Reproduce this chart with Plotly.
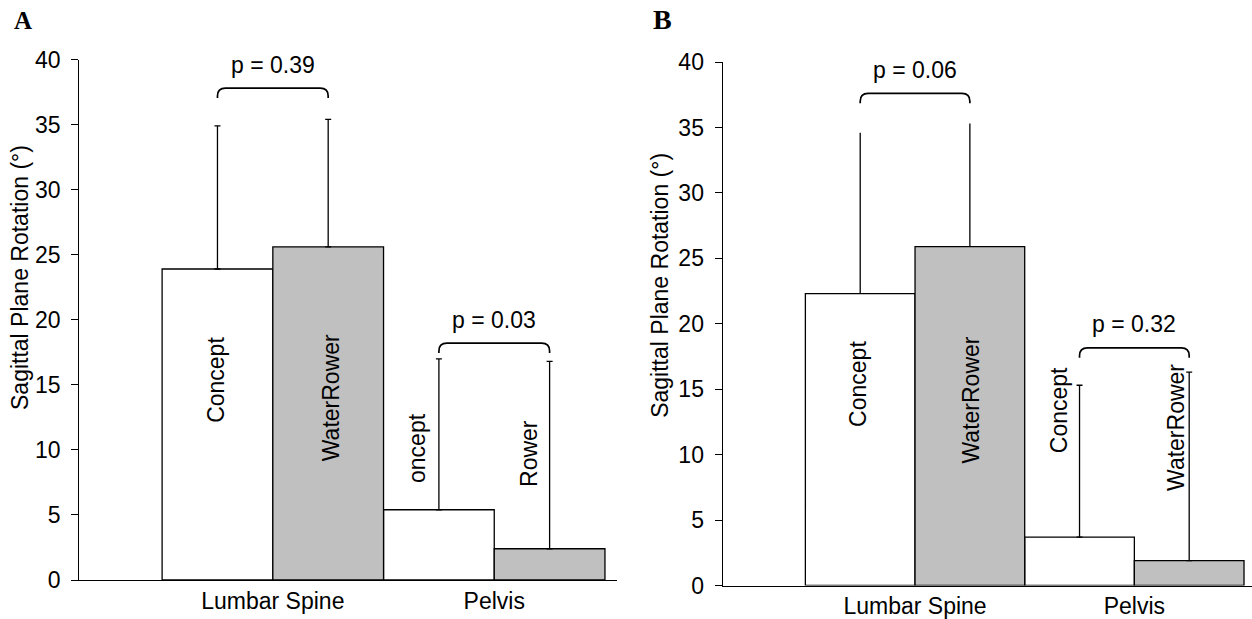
import plotly.graph_objects as go

# ---------------- data ----------------
categories = ["Lumbar Spine", "Pelvis"]
series_names = ["Concept", "WaterRower"]
y_tick_values = [0, 5, 10, 15, 20, 25, 30, 35, 40]

# Panel A
a_concept_mean = [23.9, 5.4]
a_concept_sd = [11.0, 11.6]
a_water_mean = [25.6, 2.4]
a_water_sd = [9.8, 14.4]
a_pvalues = ["p = 0.39", "p = 0.03"]
a_labels_concept = ["Concept", "oncept"]
a_labels_water = ["WaterRower", "Rower"]

# Panel B
b_concept_mean = [22.3, 3.7]
b_concept_sd = [12.3, 11.6]
b_water_mean = [25.9, 1.9]
b_water_sd = [9.4, 14.4]
b_pvalues = ["p = 0.06", "p = 0.32"]
b_labels_concept = ["Concept", "Concept"]
b_labels_water = ["WaterRower", "WaterRower"]

# ---------------- styling ----------------
W, H = 1252, 619
FONT = "Liberation Sans, Arial, sans-serif"
FS = 23
GRAY = "#c0c0c0"
LW = 1.3
BAR_W = 0.5

panels = [
    dict(xa="x", ya="y", concept=(a_concept_mean, a_concept_sd), water=(a_water_mean, a_water_sd),
         pvals=a_pvalues, lab_c=a_labels_concept, lab_w=a_labels_water,
         # label positions: (x offset from bar centre, y) per category
         pos_c=[(-0.01, 15.4), (-0.098, 10.16)], pos_w=[(0.01, 14.0), (-0.09, 9.74)],
         bracket=[37.8, 18.2], ptext=[39.6, 19.95],
         caps=[[3, 3], [3, 3]],
         xdom=[79.3 / W, 616.7 / W], ydom=[1 - 580 / H, 1 - 59.5 / H], xr=[-0.874, 1.553],
         letter="A", letter_pos=(23, 20.5), letter_size=25, title_pos=(20, 278)),
    dict(xa="x2", ya="y2", concept=(b_concept_mean, b_concept_sd), water=(b_water_mean, b_water_sd),
         pvals=b_pvalues, lab_c=b_labels_concept, lab_w=b_labels_water,
         pos_c=[(-0.011, 15.39), (-0.096, 13.43)], pos_w=[(0.006, 14.15), (-0.06, 12.04)],
         bracket=[37.6, 18.15], ptext=[39.4, 19.95],
         caps=[[0, 3], [0, 3]],
         xdom=[722.7 / W, 1251.7 / W], ydom=[1 - 585.5 / H, 1 - 62 / H], xr=[-0.877, 1.535],
         letter="B", letter_pos=(662, 19.7), letter_size=28, title_pos=(659.8, 285)),
]

fig = go.Figure()
annotations = []
shapes = []

for p in panels:
    for s_idx, (key, fill, labs, poss) in enumerate([
        ("concept", "white", p["lab_c"], p["pos_c"]),
        ("water", GRAY, p["lab_w"], p["pos_w"]),
    ]):
        means, sds = p[key]
        offset = -BAR_W / 2 if s_idx == 0 else BAR_W / 2
        for ci in range(len(categories)):
            fig.add_trace(go.Bar(
                x=[ci + offset], y=[means[ci]], width=BAR_W,
                xaxis=p["xa"], yaxis=p["ya"],
                marker=dict(color=fill, line=dict(color="black", width=LW)),
                error_y=dict(type="data", symmetric=False, array=[sds[ci]], arrayminus=[0],
                             color="black", thickness=LW, width=p["caps"][s_idx][ci]),
                name=series_names[s_idx], showlegend=False, hoverinfo="skip",
            ))
            dx, yy = poss[ci]
            annotations.append(dict(
                x=ci + offset + dx, y=yy, xref=p["xa"], yref=p["ya"], text=labs[ci],
                textangle=-90, showarrow=False, xanchor="center", yanchor="middle",
                font=dict(family=FONT, size=FS, color="black")))

    # brackets and p-values
    for ci in range(len(categories)):
        x1 = ci - BAR_W / 2
        x2 = ci + BAR_W / 2
        top = p["bracket"][ci]
        depth = 0.75
        cdx, cdy = 0.036, 0.6
        path = (f"M {x1},{top - depth} L {x1},{top - cdy} Q {x1},{top} {x1 + cdx},{top} "
                f"L {x2 - cdx},{top} Q {x2},{top} {x2},{top - cdy} L {x2},{top - depth}")
        shapes.append(dict(type="path", path=path, xref=p["xa"], yref=p["ya"],
                           line=dict(color="black", width=1.7)))
        annotations.append(dict(
            x=ci, y=p["ptext"][ci], xref=p["xa"], yref=p["ya"], text=p["pvals"][ci],
            showarrow=False, xanchor="center", yanchor="middle",
            font=dict(family=FONT, size=FS, color="black")))

    # panel letter
    lx, ly = p["letter_pos"]
    annotations.append(dict(
        x=lx / W, y=1 - ly / H, xref="paper", yref="paper", text=f"<b>{p['letter']}</b>",
        showarrow=False, xanchor="center", yanchor="middle",
        font=dict(family="Liberation Serif, Times New Roman, serif", size=p["letter_size"], color="black")))
    # y-axis title
    tx, ty = p["title_pos"]
    annotations.append(dict(
        x=tx / W, y=1 - ty / H, xref="paper", yref="paper", text="Sagittal Plane Rotation (°)",
        textangle=-90, showarrow=False, xanchor="center", yanchor="middle",
        font=dict(family=FONT, size=FS, color="black")))

axis_common_y = dict(range=[0, 40], tickvals=y_tick_values, showgrid=False, zeroline=False,
                     showline=True, linecolor="black", linewidth=LW, ticks="outside",
                     ticklen=7, tickwidth=LW, tickcolor="black", ticklabelstandoff=6,
                     tickfont=dict(family=FONT, size=FS, color="black"), fixedrange=True)
axis_common_x = dict(tickvals=list(range(len(categories))), ticktext=categories, showgrid=False,
                     zeroline=False, showline=True, linecolor="black", linewidth=LW, ticks="",
                     ticklabelstandoff=0,
                     tickfont=dict(family=FONT, size=FS, color="black"), fixedrange=True)

fig.update_layout(
    width=W, height=H, margin=dict(l=0, r=0, t=0, b=0, autoexpand=False),
    paper_bgcolor="white", plot_bgcolor="white", barmode="overlay", showlegend=False,
    xaxis=dict(axis_common_x, domain=panels[0]["xdom"], range=panels[0]["xr"], anchor="y"),
    yaxis=dict(axis_common_y, domain=panels[0]["ydom"], anchor="x"),
    xaxis2=dict(axis_common_x, domain=panels[1]["xdom"], range=panels[1]["xr"], anchor="y2"),
    yaxis2=dict(axis_common_y, domain=panels[1]["ydom"], anchor="x2"),
    annotations=annotations, shapes=shapes,
)

fig.write_html(
    "out.html",
    config={"displayModeBar": False},
    post_script="document.body.style.margin='0';document.body.style.overflow='hidden';",
)
